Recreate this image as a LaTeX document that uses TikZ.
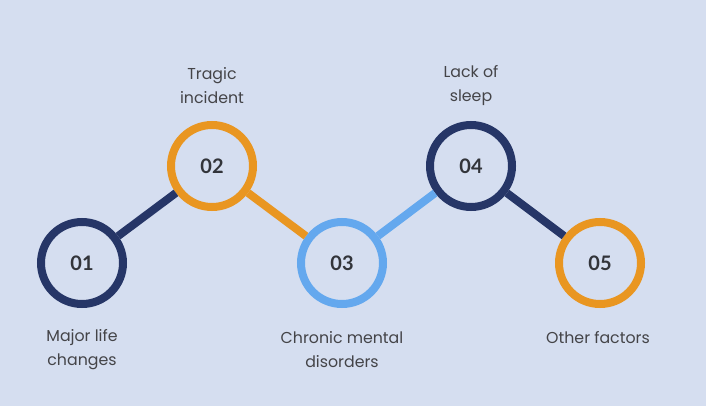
\documentclass[tikz,border=0pt]{standalone}
\usepackage{fontspec}
\setmainfont{Poppins}
\newfontfamily\numfont{Lato}
\definecolor{bg}{RGB}{213,222,240}
\definecolor{navy}{RGB}{38,54,103}
\definecolor{orng}{RGB}{233,150,33}
\definecolor{lblue}{RGB}{100,168,238}
\definecolor{txt}{RGB}{68,68,72}
\definecolor{numc}{RGB}{50,52,58}
\tikzset{
  stepcirc/.style={circle, minimum size=82pt, inner sep=0pt, line width=8pt, text=numc, font=\numfont\bfseries\fontsize{20}{22}\selectfont},
  conn/.style={line width=8pt},
  lbl/.style={align=center, text=txt, font=\fontsize{15.8}{24}\selectfont, inner sep=0pt}
}
\begin{document}
\begin{tikzpicture}[x=1pt,y=-1pt]
\fill[bg] (0,0) rectangle (706,406);
\useasboundingbox (0,0) rectangle (706,406);
\node[stepcirc, draw=navy] (c1) at (82,263) {01};
\node[stepcirc, draw=orng] (c2) at (212,166) {02};
\node[stepcirc, draw=lblue] (c3) at (342,263) {03};
\node[stepcirc, draw=navy] (c4) at (471,166) {04};
\node[stepcirc, draw=orng] (c5) at (600,263) {05};
\draw[conn, navy] (c1) -- (c2);
\draw[conn, orng] (c2) -- (c3);
\draw[conn, lblue] (c3) -- (c4);
\draw[conn, navy] (c4) -- (c5);
\node[lbl] (l1) at (82,350) {Major life\\changes};
\node[lbl] (l2) at (212,86) {Tragic\\incident};
\node[lbl] (l3) at (342,350) {Chronic mental\\disorders};
\node[lbl] (l4) at (471,86) {Lack of\\sleep};
\node[lbl] (l5) at (598,338) {Other factors};
\end{tikzpicture}
\end{document}
